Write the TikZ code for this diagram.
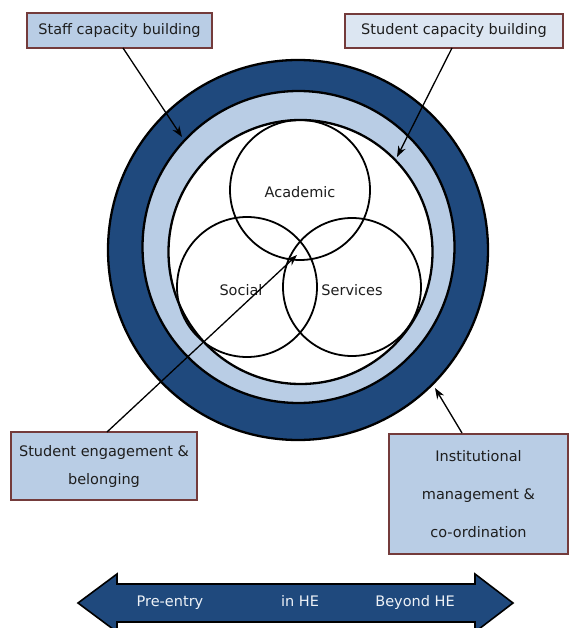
\documentclass[tikz,border=0pt]{standalone}
\usepackage{fontspec}
\setmainfont{DejaVu Sans}
\usetikzlibrary{arrows.meta}
\definecolor{darkblue}{HTML}{1F497D}
\definecolor{lightblue}{HTML}{B9CDE5}
\definecolor{paleblue}{HTML}{DCE6F2}
\definecolor{boxborder}{HTML}{743B3B}
\definecolor{txt}{HTML}{1E1E1E}
\definecolor{arrowtxt}{HTML}{EEF2F7}
\tikzset{
  ringline/.style={draw=black, line width=2.3pt},
  venn/.style={circle, draw=black, line width=1.8pt, inner sep=0pt},
  lbl/.style={text=txt, font=\fontsize{14.5}{16}\selectfont, inner sep=0pt,
    text height=1.6ex, text depth=0.4ex},
  infobox/.style={draw=boxborder, line width=1.8pt, fill=lightblue, text=txt,
    align=center, inner sep=0pt, font=\fontsize{14.5}{28}\selectfont},
  pointer/.style={draw=black, line width=1.3pt, -{Stealth[length=11pt,width=8pt]}},
  phase/.style={text=arrowtxt, font=\fontsize{14.5}{16}\selectfont, inner sep=0pt,
    text height=1.6ex, text depth=0.4ex}
}
\begin{document}
\begin{tikzpicture}[x=1pt,y=-1pt]
\useasboundingbox (0,0) rectangle (570,628);
\fill[white] (0,0) rectangle (570,628);
% rings
\filldraw[ringline, fill=darkblue] (298,250) circle[radius=190pt];
\filldraw[ringline, fill=lightblue] (298.5,247) circle[radius=156pt];
\filldraw[ringline, fill=white] (300.5,252) circle[radius=132pt];
% Venn circles
\node[venn, minimum size=140pt] (acad) at (300,190) {};
\node[venn, minimum size=140pt] (soc) at (247,287) {};
\node[venn, minimum size=138pt] (serv) at (352,287) {};
\node[lbl] (acadl) at (300,194) {Academic};
\node[lbl] (socl) at (241,292) {Social};
\node[lbl] (servl) at (352,292) {Services};
% boxes
\node[infobox, minimum width=185pt, minimum height=35pt] (staff) at (119.5,30.5) {Staff capacity building};
\node[infobox, fill=paleblue, minimum width=218pt, minimum height=34pt] (stud) at (454,31) {Student capacity building};
\node[infobox, minimum width=186pt, minimum height=68pt] (eng) at (104,466) {Student engagement \&\\belonging};
\node[infobox, minimum width=179pt, minimum height=120pt, font=\fontsize{14.5}{38}\selectfont] (inst) at (478.5,494) {Institutional\\management \&\\co-ordination};
% connector ends
\coordinate (t1) at (182,137);
\coordinate (t2) at (397,157);
\coordinate (t3) at (297,255);
\coordinate (t4) at (435,388);
\coordinate (s1) at (123,48);
\coordinate (s2) at (452,48);
\coordinate (s3) at (107,432);
\coordinate (s4) at (462,433);
\draw[pointer] (s1) -- (t1);
\draw[pointer] (s2) -- (t2);
\draw[pointer] (s3) -- (t3);
\draw[pointer] (s4) -- (t4);
% bottom double arrow
\filldraw[draw=black, line width=1.6pt, fill=darkblue, line join=miter]
  (78,603) -- (117,574) -- (117,584) -- (475,584) -- (475,574) -- (513,603)
  -- (475,632) -- (475,622) -- (117,622) -- (117,632) -- cycle;
\node[phase] (pre) at (170,603) {Pre-entry};
\node[phase] (inhe) at (300,603) {in HE};
\node[phase] (beyond) at (415,603) {Beyond HE};
\end{tikzpicture}
\end{document}
